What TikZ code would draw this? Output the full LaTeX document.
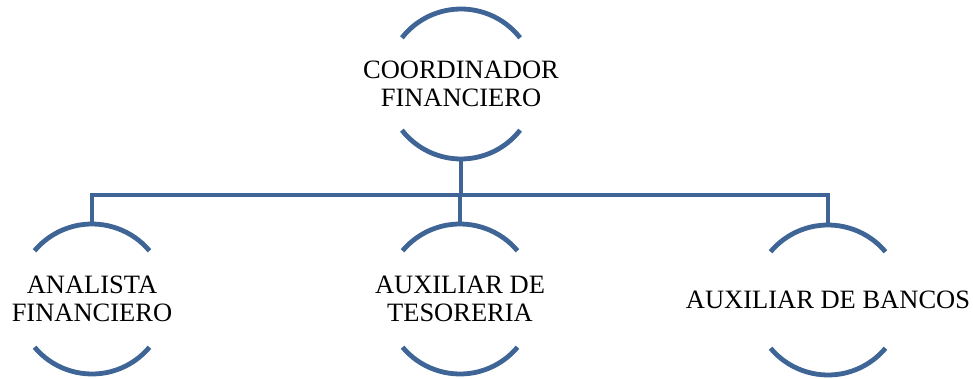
\documentclass[tikz,border=0pt]{standalone}
\usepackage{fontspec}
\setmainfont{Liberation Serif}
\usepackage{xcolor}
\usetikzlibrary{positioning}
\definecolor{arcblue}{RGB}{63,100,150}
\tikzset{
    unit/.style={
        align=center, inner sep=0pt,
        font=\fontsize{26.5}{28}\selectfont
    },
    rim/.style={
        draw=arcblue, line width=4.8pt
    },
    link/.style={
        draw=arcblue, line width=3.8pt
    }
}
\begin{document}
\begin{tikzpicture}[on grid]
        \useasboundingbox (0pt,0pt) rectangle (973pt,-379pt);

        % Head
        \node[unit] (coord) at (461pt,-84pt) {COORDINADOR\\FINANCIERO};

        % Staff
        \node[unit, below=215pt of coord, xshift=-1pt] (teso) {AUXILIAR DE\\TESORERIA};
        \node[unit, left=368pt of teso] (ana) {ANALISTA\\FINANCIERO};
        \node[unit, right=368pt of teso, yshift=-1pt] (ban) {AUXILIAR DE BANCOS};

        % Arcs
        \draw[rim] ([shift={(38:75pt)}]coord.center) arc[start angle=38, end angle=142, radius=75pt];
        \draw[rim] ([shift={(218:75pt)}]coord.center) arc[start angle=218, end angle=322, radius=75pt];
        \draw[rim] ([shift={(40:75pt)}]ana.center) arc[start angle=40, end angle=140, radius=75pt];
        \draw[rim] ([shift={(220:75pt)}]ana.center) arc[start angle=220, end angle=320, radius=75pt];
        \draw[rim] ([shift={(40:75pt)}]teso.center) arc[start angle=40, end angle=140, radius=75pt];
        \draw[rim] ([shift={(220:75pt)}]teso.center) arc[start angle=220, end angle=320, radius=75pt];
        \draw[rim] ([shift={(40:75pt)}]ban.center) arc[start angle=40, end angle=140, radius=75pt];
        \draw[rim] ([shift={(220:75pt)}]ban.center) arc[start angle=220, end angle=320, radius=75pt];

        % Connector points
        \coordinate[below=75pt of coord] (coord-bot);
        \coordinate[below=36pt of coord-bot] (bar);
        \coordinate[above=75pt of ana] (ana-top);
        \coordinate[above=75pt of teso] (teso-top);
        \coordinate[above=75pt of ban] (ban-top);

        % Connectors
        \draw[link] (coord-bot) -- (bar) -| (ana-top);
        \draw[link] (bar) -| (ban-top);
        \draw[link] (bar) -- (bar -| teso-top) -- (teso-top);

    \end{tikzpicture}
\end{document}
